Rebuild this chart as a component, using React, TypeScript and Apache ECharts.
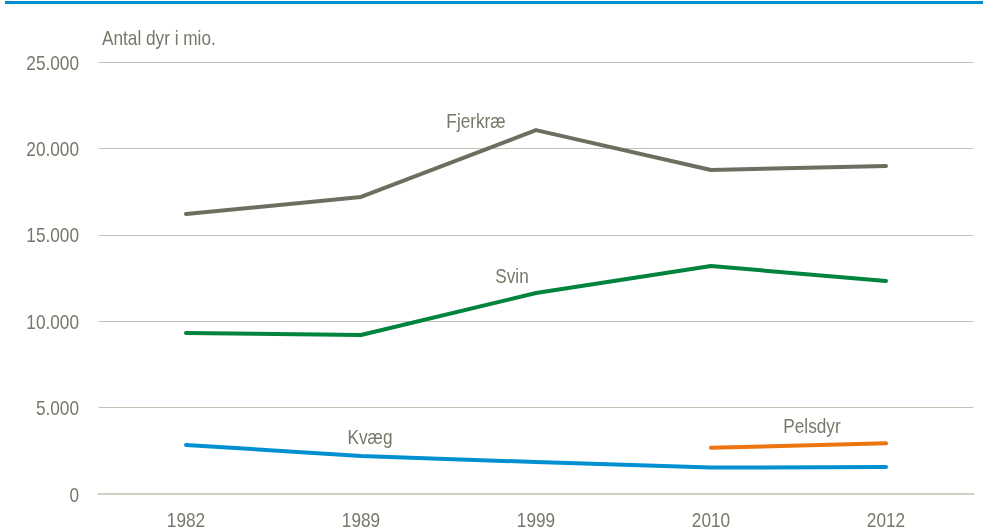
import React, { useEffect, useRef } from "react";
import * as echarts from "echarts";

const years = ["1982", "1989", "1999", "2010", "2012"];
const fjerkrae = [16200, 17190, 21060, 18750, 18980];
const svin = [9320, 9200, 11630, 13190, 12330];
const kvaeg = [2840, 2200, 1850, 1530, 1560];
const pelsdyr = [null, null, null, 2680, 2930];
const yTickValues = [0, 5000, 10000, 15000, 20000, 25000];
const yTickLabels = ["0", "5.000", "10.000", "15.000", "20.000", "25.000"];

const FONT = "'Liberation Sans', Arial, sans-serif";
const TXT = "#77776a";
const NARROW = 0.82;

export default function App() {
  const ref = useRef<HTMLDivElement>(null);
  useEffect(() => {
    document.body.style.margin = "0";
    const chart = echarts.init(ref.current!, null, { renderer: "svg" });
    const lineSeries = (name: string, data: (number | null)[], color: string) => ({
      name,
      type: "line",
      data,
      symbol: "none",
      lineStyle: { color, width: 4, cap: "round", join: "round" },
      itemStyle: { color },
      connectNulls: false,
    });
    const narrowText = (text: string, x: number, y: number, align: string) => ({
      type: "text",
      x,
      y,
      scaleX: NARROW,
      style: { text, fill: TXT, font: `21px ${FONT}`, align, verticalAlign: "middle" },
    });
    chart.setOption({
      animation: false,
      grid: { left: 98.5, right: 11.5, top: 62, bottom: 36 },
      xAxis: {
        type: "category",
        data: years,
        boundaryGap: true,
        axisLine: { show: true, lineStyle: { color: "#cfcfc6", width: 2 } },
        axisTick: { show: false },
        axisLabel: { show: false },
      },
      yAxis: {
        type: "value",
        min: 0,
        max: 25000,
        interval: 5000,
        axisLine: { show: false },
        axisTick: { show: false },
        splitLine: { lineStyle: { color: "#c2c2b4", width: 1 } },
        axisLabel: { show: false },
      },
      series: [
        lineSeries("Fjerkræ", fjerkrae, "#6e6e60"),
        lineSeries("Svin", svin, "#00843d"),
        lineSeries("Kvæg", kvaeg, "#0090d2"),
        lineSeries("Pelsdyr", pelsdyr, "#ec7510"),
      ],
    });
    const axisY = chart.convertToPixel({ yAxisIndex: 0 }, 0) as number;
    const xLabels = years.map((yr) =>
      narrowText(yr, chart.convertToPixel({ xAxisIndex: 0 }, yr) as number, axisY + 25.5, "center")
    );
    const yLabels = yTickValues.map((v, i) =>
      narrowText(yTickLabels[i], 79, (chart.convertToPixel({ yAxisIndex: 0 }, v) as number) + 0.5, "right")
    );
    chart.setOption({
      graphic: [
        { type: "line", shape: { x1: 5, y1: 2.5, x2: 983, y2: 2.5 }, style: { stroke: "#0090d2", lineWidth: 3 } },
        narrowText("Antal dyr i mio.", 102, 38, "left"),
        narrowText("Fjerkræ", 476, 121, "center"),
        narrowText("Svin", 512, 276, "center"),
        narrowText("Kvæg", 370, 437, "center"),
        narrowText("Pelsdyr", 812, 426, "center"),
        ...xLabels,
        ...yLabels,
      ],
    });
    return () => chart.dispose();
  }, []);
  return <div ref={ref} style={{ position: "fixed", left: 0, top: 0, width: 985, height: 530 }} />;
}
